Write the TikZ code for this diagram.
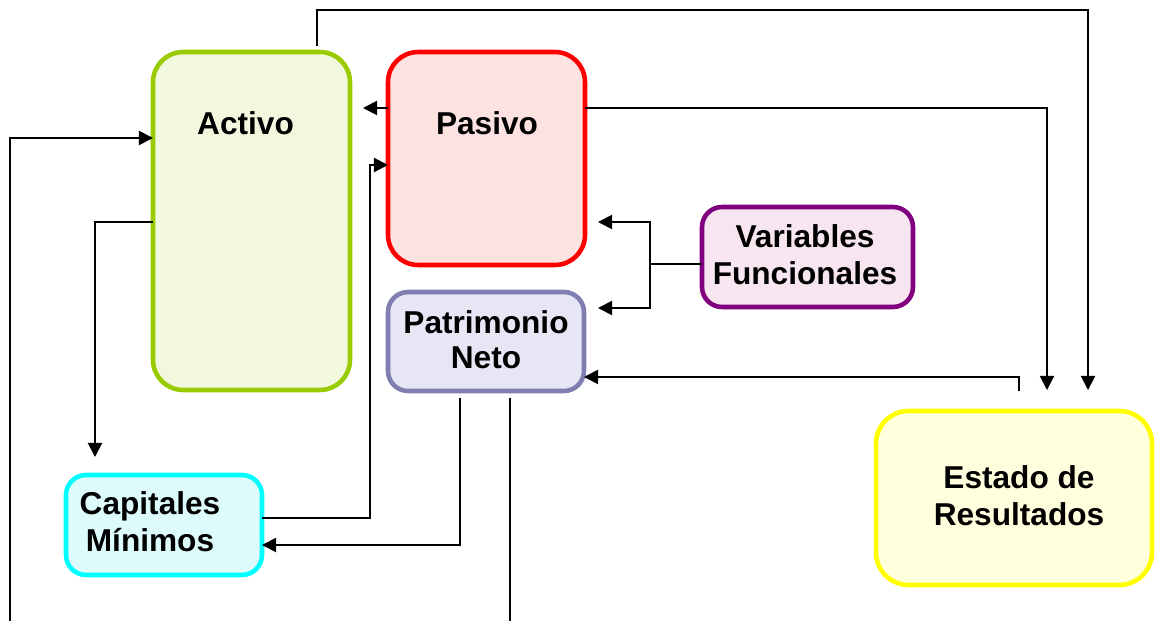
\documentclass[tikz,border=0pt]{standalone}
\usepackage{fontspec}
\setmainfont{Liberation Sans}
\usetikzlibrary{arrows.meta,calc}

\definecolor{activoborde}{HTML}{99CC00}
\definecolor{activofondo}{HTML}{F1F8DE}
\definecolor{pasivoborde}{HTML}{FF0000}
\definecolor{pasivofondo}{HTML}{FDE2E2}
\definecolor{patrimonioborde}{HTML}{7F7FB2}
\definecolor{patrimoniofondo}{HTML}{E6E6F5}
\definecolor{variablesborde}{HTML}{800080}
\definecolor{variablesfondo}{HTML}{F7E6F0}
\definecolor{capitalesborde}{HTML}{00FFFF}
\definecolor{capitalesfondo}{HTML}{DEFBFB}
\definecolor{estadoborde}{HTML}{FFFF00}
\definecolor{estadofondo}{HTML}{FFFFDE}

\tikzset{
  caja/.style={draw, line width=2.6pt, inner sep=0pt, outer sep=0pt},
  texto/.style={font=\fontsize{18}{21}\selectfont\bfseries, align=center, inner sep=0pt},
  linea/.style={line width=1.1pt},
  flecha/.style={line width=1.1pt, -{Triangle[length=8pt,width=8pt]}},
}

\begin{document}
\begin{tikzpicture}[x=0.02cm, y=-0.02cm]
        \useasboundingbox (0,0) rectangle (1155,621);

        % Cajas
        \node[caja, draw=activoborde, fill=activofondo, rounded corners=0.6cm,
              minimum width=3.94cm, minimum height=6.76cm] (activo) at (251.5,221) {};
        \node[caja, draw=pasivoborde, fill=pasivofondo, rounded corners=0.6cm,
              minimum width=3.94cm, minimum height=4.26cm] (pasivo) at (486.5,158.5) {};
        \node[caja, draw=patrimonioborde, fill=patrimoniofondo, rounded corners=0.4cm,
              minimum width=3.92cm, minimum height=1.98cm] (patrimonio) at (486,341.5) {};
        \node[caja, draw=variablesborde, fill=variablesfondo, rounded corners=0.4cm,
              minimum width=4.22cm, minimum height=2cm] (variables) at (807.5,257) {};
        \node[caja, draw=capitalesborde, fill=capitalesfondo, rounded corners=0.4cm,
              minimum width=3.92cm, minimum height=2cm] (capitales) at (164,525) {};
        \node[caja, draw=estadoborde, fill=estadofondo, rounded corners=0.65cm,
              minimum width=5.52cm, minimum height=3.48cm] (estado) at (1014,498) {};

        % Textos
        \node[texto, anchor=base] (tactivo) at (245.5,135) {Activo};
        \node[texto, anchor=base] (tpasivo) at (487,135) {Pasivo};
        \node[texto, font=\fontsize{18}{20}\selectfont\bfseries] (tpatrimonio) at (486,340) {Patrimonio\\Neto};
        \node[texto] (tvariables) at (805,254.5) {Variables\\Funcionales};
        \node[texto] (tcapitales) at (150,522) {Capitales\\Mínimos};
        \node[texto] (testado) at (1019,495.5) {Estado de\\Resultados};

        % Conectores
        \coordinate (abajoizq) at (10,621);
        \coordinate (abajocentro) at (510,621);
        \coordinate (rama) at (650,264);

        \draw[flecha] ($(activo.north)+(65.5,-6)$) |- (1088,10) -- ($(estado.north)+(74,-21)$);
        \draw[flecha] (pasivo.east |- 0,108) -| ($(estado.north)+(33,-21)$);
        \draw[flecha] (pasivo.west |- 0,108) -- ($(activo.east |- 0,108)+(13,0)$);
        \draw[flecha] (abajoizq) |- (activo.west |- 0,138);
        \draw[flecha] (activo.west |- 0,222) -| ($(capitales.north)+(-69,-18)$);
        \draw[flecha] (capitales.east |- 0,518) -| (370,165) -- (pasivo.west |- 0,165);
        \draw[flecha] ($(patrimonio.south)+(-26,7)$) |- (capitales.east |- 0,545);
        \draw[linea] ($(patrimonio.south)+(24,7)$) -- (abajocentro);
        \draw[linea] (variables.west |- rama) -- (rama);
        \draw[flecha] (rama) |- ($(pasivo.east |- 0,222)+(13,0)$);
        \draw[flecha] (rama) |- ($(patrimonio.east |- 0,308)+(14,0)$);
        \draw[flecha] ($(estado.north)+(5,-20)$) |- (patrimonio.east |- 0,377);

\end{tikzpicture}
\end{document}
